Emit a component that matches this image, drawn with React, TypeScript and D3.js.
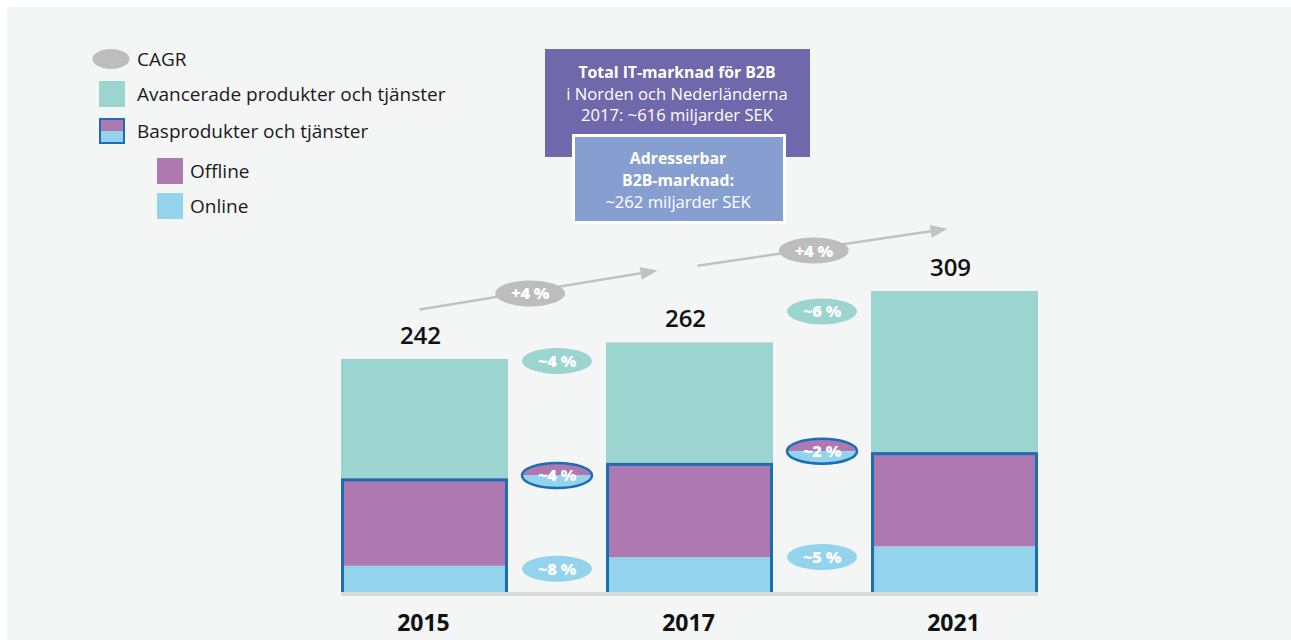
import React from 'react'
import * as d3 from 'd3'

// values in miljarder SEK
const years = ['2015', '2017', '2021']
const online = [27, 36, 47]
const offline = [90, 97, 97]
const advanced = [123, 124, 166]
const totalLabels = ['242', '262', '309']

// CAGR between the years
const cagrTotal = ['+4 %', '+4 %']
const cagrAdvanced = ['~4 %', '~6 %']
const cagrBase = ['~4 %', '~2 %']
const cagrOnline = ['~8 %', '~5 %']

const legendItems = ['CAGR', 'Avancerade produkter och tjänster', 'Basprodukter och tjänster', 'Offline', 'Online']

const C = {
  panel: '#f4f5f5',
  teal: '#9cd4cf',
  purple: '#ad79b0',
  blue: '#94d3ec',
  outline: '#1b6db5',
  gray: '#bdbdbd',
  arrow: '#c2c2c2',
  dark: '#6f68aa',
  light: '#879fd0',
  text: '#1a1a1a',
}

const FONT = "'Open Sans', 'Noto Sans', sans-serif"
const W = 1291
const H = 640

function Badge({ cx, cy, label, kind }: { cx: number; cy: number; label: string; kind: string }) {
  const rx = 36
  const ry = 13
  let shape
  if (kind === 'base') {
    const top = `M${cx - rx},${cy} A${rx},${ry} 0 0 1 ${cx + rx},${cy} Z`
    const bot = `M${cx - rx},${cy} A${rx},${ry} 0 0 0 ${cx + rx},${cy} Z`
    shape = (
      <g>
        <path d={top} fill={C.purple} />
        <path d={bot} fill={C.blue} />
        <ellipse cx={cx} cy={cy} rx={rx - 1} ry={ry - 0.5} fill="none" stroke={C.outline} strokeWidth={2.5} />
      </g>
    )
  } else {
    const fill = kind === 'teal' ? C.teal : kind === 'online' ? C.blue : C.gray
    shape = <ellipse cx={cx} cy={cy} rx={rx - 1} ry={ry} fill={fill} />
  }
  return (
    <g>
      {shape}
      <text x={cx} y={cy + 6} textAnchor="middle" fill="#fff" fontWeight={800} fontSize={16.5} letterSpacing={-0.3}>
        {label}
      </text>
    </g>
  )
}

export default function App() {
  const x = d3.scaleBand().domain(years).range([341, 1038]).paddingInner(0.37).paddingOuter(0)
  const y = d3.scaleLinear().domain([0, 310]).range([592, 291])
  const bw = x.bandwidth()

  const rows = years.map((yr, i) => ({
    year: yr,
    online: online[i],
    offline: offline[i],
    advanced: advanced[i],
    label: totalLabels[i],
  }))
  const stack = d3.stack<any>().keys(['online', 'offline', 'advanced'])(rows)
  const colors: Record<string, string> = { online: C.blue, offline: C.purple, advanced: C.teal }

  const mid = (i: number) => (x(years[i])! + bw + x(years[i + 1])!) / 2
  const center = (i: number) => x(years[i])! + bw / 2

  // level (in data units) where each CAGR badge sits
  const badgeLevels = { teal: [238, 289], base: [120, 145], online: [24, 36] }

  // growth arrows above the bars
  const arrows = [
    { x0: center(0) - 5, v0: 291, x1: center(1) - 32, v1: 331 },
    { x0: center(1) + 8, v0: 336, x1: center(2) - 7, v1: 374 },
  ]

  const legendY = [59, 94, 131, 171, 206]

  return (
    <svg width={W} height={H} style={{ position: 'absolute', left: 0, top: 0 }} fontFamily={FONT}>
      <rect x={0} y={0} width={W} height={H} fill="#fff" />
      <rect x={7} y={7} width={W - 7} height={H - 7} fill={C.panel} />

      {/* legend */}
      <g>
        <ellipse cx={111} cy={legendY[0]} rx={18.5} ry={10} fill={C.gray} />
        <rect x={99} y={legendY[1] - 13} width={26} height={26} fill={C.teal} />
        <rect x={99} y={legendY[2] - 13} width={26} height={13} fill={C.purple} />
        <rect x={99} y={legendY[2]} width={26} height={13} fill={C.blue} />
        <rect x={100} y={legendY[2] - 12} width={24} height={24} fill="none" stroke={C.outline} strokeWidth={2} />
        <rect x={157} y={legendY[3] - 13} width={26} height={26} fill={C.purple} />
        <rect x={157} y={legendY[4] - 13} width={26} height={26} fill={C.blue} />
        {legendItems.map((t, i) => (
          <text key={t} x={i < 3 ? 137 : 190} y={legendY[i] + 7} fontSize={19} fill={C.text}>
            {t}
          </text>
        ))}
      </g>

      {/* market boxes */}
      <g>
        <rect x={545} y={49} width={265} height={108} fill={C.dark} />
        <text x={677} y={78} textAnchor="middle" fill="#fff" fontSize={15.8} fontWeight={700}>
          Total IT-marknad för B2B
        </text>
        <text x={677} y={99.5} textAnchor="middle" fill="#fff" fontSize={16.6}>
          i Norden och Nederländerna
        </text>
        <text x={677} y={121} textAnchor="middle" fill="#fff" fontSize={16.6}>
          2017: ~616 miljarder SEK
        </text>
        <rect x={573.5} y={135.5} width={211} height={87} fill={C.light} stroke="#fff" strokeWidth={3} />
        <text x={678} y={164} textAnchor="middle" fill="#fff" fontSize={15.8} fontWeight={700}>
          Adresserbar
        </text>
        <text x={678} y={186} textAnchor="middle" fill="#fff" fontSize={15.8} fontWeight={700}>
          B2B-marknad:
        </text>
        <text x={678} y={207.5} textAnchor="middle" fill="#fff" fontSize={16.6}>
          ~262 miljarder SEK
        </text>
      </g>

      {/* bars */}
      {stack.map((layer) => (
        <g key={layer.key}>
          {layer.map((d, i) => (
            <rect
              key={i}
              x={x(years[i])}
              y={y(d[1])}
              width={bw}
              height={y(d[0]) - y(d[1])}
              fill={colors[layer.key]}
            />
          ))}
        </g>
      ))}
      {rows.map((r) => (
        <rect
          key={r.year}
          x={x(r.year)! + 1.5}
          y={y(r.online + r.offline) + 1.5}
          width={bw - 3}
          height={y(0) - y(r.online + r.offline)}
          fill="none"
          stroke={C.outline}
          strokeWidth={3}
        />
      ))}
      <rect x={341} y={y(0)} width={1038 - 341} height={4} fill="#d9d9d9" />

      {/* totals and years */}
      {rows.map((r, i) => (
        <g key={r.year}>
          <text
            x={center(i) - 4}
            y={y(r.online + r.offline + r.advanced) - 15}
            textAnchor="middle"
            fontSize={24}
            fontWeight={600}
            fill="#111"
          >
            {r.label}
          </text>
          <text x={center(i) - 1} y={631} textAnchor="middle" fontSize={23} fontWeight={700} fill="#111">
            {r.year}
          </text>
        </g>
      ))}

      {/* growth arrows */}
      {arrows.map((a, i) => {
        const x0 = a.x0
        const y0 = y(a.v0)
        const x1 = a.x1
        const y1 = y(a.v1)
        const ang = Math.atan2(y1 - y0, x1 - x0)
        const len = 17
        const hw = 6.5
        const bx = x1 - len * Math.cos(ang)
        const by = y1 - len * Math.sin(ang)
        const px = -Math.sin(ang) * hw
        const py = Math.cos(ang) * hw
        const t = 0.465
        return (
          <g key={i}>
            <line x1={x0} y1={y0} x2={bx} y2={by} stroke={C.arrow} strokeWidth={2.5} />
            <path d={`M${x1},${y1} L${bx + px},${by + py} L${bx - px},${by - py} Z`} fill={C.arrow} />
            <Badge cx={x0 + (x1 - x0) * t} cy={y0 + (y1 - y0) * t + 2} label={cagrTotal[i]} kind="gray" />
          </g>
        )
      })}

      {/* CAGR badges between bars */}
      {[0, 1].map((i) => (
        <g key={i}>
          <Badge cx={mid(i)} cy={y(badgeLevels.teal[i])} label={cagrAdvanced[i]} kind="teal" />
          <Badge cx={mid(i)} cy={y(badgeLevels.base[i])} label={cagrBase[i]} kind="base" />
          <Badge cx={mid(i)} cy={y(badgeLevels.online[i])} label={cagrOnline[i]} kind="online" />
        </g>
      ))}
    </svg>
  )
}
